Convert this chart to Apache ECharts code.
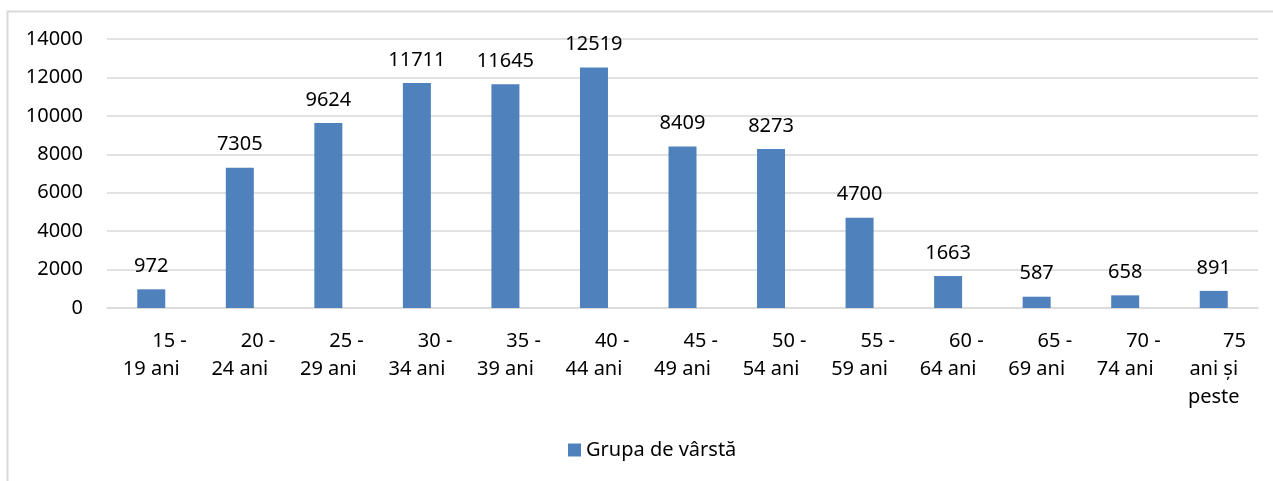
<!DOCTYPE html>
<html>
<head>
<meta charset="utf-8">
<script src="https://cdn.jsdelivr.net/npm/echarts@6/dist/echarts.min.js"></script>
<style>
html,body{margin:0;padding:0;background:#fff;}
#chart{width:1273px;height:481px;}
</style>
</head>
<body>
<div id="chart"></div>
<script>
const categories = ["15 - 19 ani","20 - 24 ani","25 - 29 ani","30 - 34 ani","35 - 39 ani","40 - 44 ani","45 - 49 ani","50 - 54 ani","55 - 59 ani","60 - 64 ani","65 - 69 ani","70 - 74 ani","75 ani și peste"];
const axisLabels = ["       15 -\n19 ani","       20 -\n24 ani","       25 -\n29 ani","       30 -\n34 ani","       35 -\n39 ani","       40 -\n44 ani","       45 -\n49 ani","       50 -\n54 ani","       55 -\n59 ani","       60 -\n64 ani","       65 -\n69 ani","       70 -\n74 ani","        75\nani și\npeste"];
const values = [972,7305,9624,11711,11645,12519,8409,8273,4700,1663,587,658,891];
const seriesName = "Grupa de vârstă";
const yTicks = [0,2000,4000,6000,8000,10000,12000,14000];

const chart = echarts.init(document.getElementById('chart'));
const font = "'Noto Sans', sans-serif";
chart.setOption({
  animation:false,
  textStyle:{fontFamily:font},
  graphic:[{
    type:'rect', left:5, top:9, shape:{width:1290,height:500},
    style:{fill:'none',stroke:'#D9D9D9',lineWidth:2}, silent:true, z:-1
  }],
  grid:{left:107,right:15,top:39,bottom:173,containLabel:false},
  legend:{
    bottom:16, left:563, itemWidth:13, itemHeight:13, itemGap:6,
    icon:'rect',
    textStyle:{fontFamily:font,fontSize:20,color:'#000'},
    data:[seriesName]
  },
  xAxis:{
    type:'category',
    data:axisLabels,
    axisLine:{lineStyle:{color:'#D9D9D9',width:1.5}},
    axisTick:{show:false},
    axisLabel:{interval:0,color:'#000',fontSize:20,lineHeight:28,margin:19,fontFamily:font}
  },
  yAxis:{
    type:'value',min:yTicks[0],max:yTicks[yTicks.length-1],interval:2000,
    axisLine:{show:false},axisTick:{show:false},
    splitLine:{lineStyle:{color:'#D9D9D9',width:1.5}},
    axisLabel:{color:'#000',fontSize:20,margin:24,fontFamily:font,formatter:v=>String(v)}
  },
  series:[{
    name:seriesName,
    type:'bar',
    data:values,
    barWidth:28,
    itemStyle:{color:'#4F81BD'},
    label:{show:true,position:'top',distance:13,color:'#000',fontSize:20,fontFamily:font}
  }]
});
</script>
</body>
</html>
